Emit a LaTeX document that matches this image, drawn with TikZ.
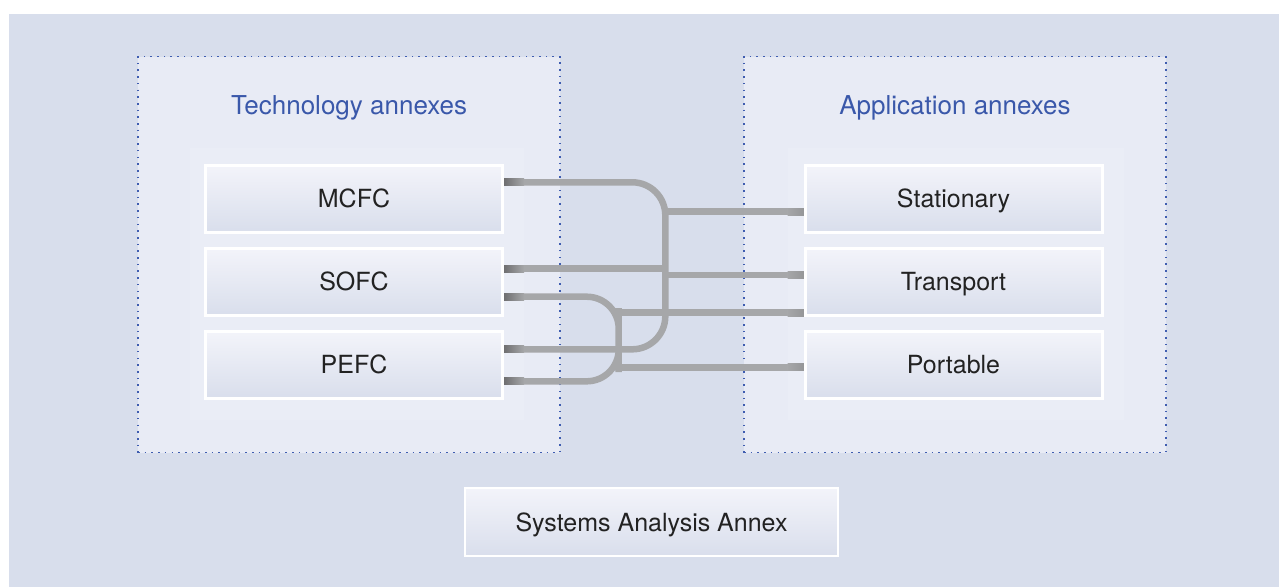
\documentclass[tikz,border=0pt]{standalone}
\usepackage{fontspec}
\setmainfont{TeX Gyre Heros}
\usetikzlibrary{calc}
\definecolor{bgc}{HTML}{D8DEEC}
\definecolor{grpfill}{HTML}{E8EBF5}
\definecolor{panelc}{HTML}{EAEDF6}
\definecolor{dotc}{HTML}{3F5DB0}
\definecolor{titlec}{HTML}{3A58AA}
\definecolor{boxtop}{HTML}{F3F4FA}
\definecolor{boxbot}{HTML}{D9DEEC}
\definecolor{textc}{HTML}{222222}
\definecolor{lineg}{HTML}{A6A7A9}
\definecolor{stubdark}{HTML}{6C6C6E}
\definecolor{stubright}{HTML}{949597}
\tikzset{
  grp/.style={draw=dotc, fill=grpfill, line width=1.8pt, dash pattern=on 1.6pt off 5.1pt,
    minimum width=422pt, minimum height=396pt, inner sep=0pt},
  grptitle/.style={text=titlec, font=\fontsize{26}{30}\selectfont, anchor=base, inner sep=0pt},
  abox/.style={draw=white, line width=2pt, top color=boxtop, bottom color=boxbot,
    minimum width=296pt, minimum height=66pt, inner sep=0pt, text=textc,
    font=\fontsize{25}{30}\selectfont, text height=18pt, text depth=0pt},
  conn/.style={draw=lineg, line width=6.5pt},
}
\begin{document}
\begin{tikzpicture}[x=1pt,y=-1pt]
\useasboundingbox (0,0) rectangle (1279,587);
\fill[white] (0,0) rectangle (1279,587);
\fill[bgc] (9,14) rectangle (1279,587);

% groups
\node[grp] (techgrp) at (349,254.5) {};
\node[grp] (appgrp) at (955,254.5) {};
\fill[panelc] (190,148) rectangle (524,420);
\fill[panelc] (788,148) rectangle (1124,420);
\node[grptitle] (techtitle) at (349,114) {Technology annexes};
\node[grptitle] (apptitle) at (955,114) {Application annexes};

% boxes
\node[abox] (mcfc) at (354,198.5) {MCFC};
\node[abox] (sofc) at (354,281.5) {SOFC};
\node[abox] (pefc) at (354,364.5) {PEFC};
\node[abox] (stat) at (953.5,198.5) {Stationary};
\node[abox] (trans) at (953.5,281.5) {Transport};
\node[abox] (port) at (953.5,364.5) {Portable};
\node[abox, minimum width=373pt, minimum height=68pt] (saa) at (651.5,522) {Systems Analysis Annex};

% connector anchor points
\coordinate (m1) at ([yshift=16.2pt]mcfc.east);
\coordinate (s1) at ([yshift=12.8pt]sofc.east);
\coordinate (s2) at ([yshift=-15.2pt]sofc.east);
\coordinate (p1) at ([yshift=15.2pt]pefc.east);
\coordinate (p2) at ([yshift=-16.8pt]pefc.east);
\coordinate (st) at ([yshift=-13.2pt]stat.west);
\coordinate (tr1) at ([yshift=6.7pt]trans.west);
\coordinate (tr2) at ([yshift=-31.2pt]trans.west);
\coordinate (po) at ([yshift=-2.8pt]port.west);
\coordinate (bigv) at (665.3,265);
\coordinate (smallv) at (618.7,340);

% connectors
\draw[conn, rounded corners=33pt] (m1) -| (bigv) |- (p1);
\draw[conn, rounded corners=32pt] (s2) -| (smallv) |- (p2);
\draw[conn] (s1) -- (bigv |- s1);
\draw[conn] (bigv |- st) -- (st);
\draw[conn] (bigv |- tr1) -- (tr1);
\draw[conn] (smallv |- tr2) -- (tr2);
\draw[conn] (smallv |- po) -- (po);

% connector end stubs
\foreach \c in {m1,s1,s2,p1,p2}{
  \shade[left color=stubdark, right color=lineg] ($(\c)+(0,-3.4)$) rectangle ($(\c)+(21,3.4)$);
}
\foreach \c in {st,tr1,tr2,po}{
  \shade[left color=lineg, right color=stubright] ($(\c)+(-17,-3.4)$) rectangle ($(\c)+(0,3.4)$);
}
% redraw box borders over stubs
\foreach \b in {mcfc,sofc,pefc,stat,trans,port}{
  \draw[white, line width=2pt] (\b.south west) rectangle (\b.north east);
}
\end{tikzpicture}
\end{document}
